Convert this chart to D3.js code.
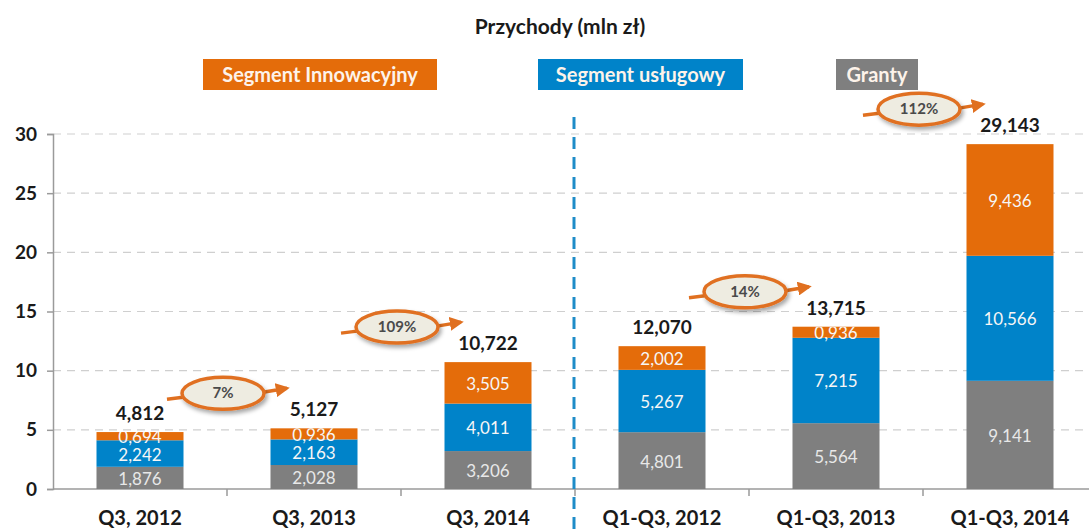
<!DOCTYPE html>
<html>
<head>
<meta charset="utf-8">
<script src="https://cdn.jsdelivr.net/npm/d3@7"></script>
<style>
  body { margin: 0; background: #fff; }
  svg { font-family: Lato, "Open Sans", sans-serif; }
</style>
</head>
<body>
<script>
// data (mln zl)
var categories = ["Q3, 2012", "Q3, 2013", "Q3, 2014", "Q1-Q3, 2012", "Q1-Q3, 2013", "Q1-Q3, 2014"];
var granty      = [1.876, 2.028, 3.206, 4.801, 5.564, 9.141];
var uslugowy    = [2.242, 2.163, 4.011, 5.267, 7.215, 10.566];
var innowacyjny = [0.694, 0.936, 3.505, 2.002, 0.936, 9.436];
var yTicks = [0, 5, 10, 15, 20, 25, 30];
var seriesNames = ["Segment Innowacyjny", "Segment usługowy", "Granty"];
var growthFrom = [0, 1, 3, 4];
var growthTo = [1, 2, 4, 5];
var growthLabels = ["7%", "109%", "14%", "112%"];

var W = 1089, H = 531;
var colors = { innowacyjny: "#E46C0A", uslugowy: "#0083C9", granty: "#7F7F7F" };

var svg = d3.select("body").append("svg")
    .attr("width", W)
    .attr("height", H);

var defs = svg.append("defs");
var shadow = defs.append("filter").attr("id", "shadow")
    .attr("x", "-30%").attr("y", "-30%").attr("width", "160%").attr("height", "180%");
shadow.append("feDropShadow")
    .attr("dx", 2).attr("dy", 3).attr("stdDeviation", 2)
    .attr("flood-color", "#000").attr("flood-opacity", 0.35);
defs.append("marker").attr("id", "arrow")
    .attr("viewBox", "0 0 10 10")
    .attr("refX", 8).attr("refY", 5)
    .attr("markerWidth", 4).attr("markerHeight", 4)
    .attr("orient", "auto")
    .append("path").attr("d", "M0,0 L10,5 L0,10 z").attr("fill", "#E07020");

var x = d3.scaleBand().domain(categories).range([53, 1097]).padding(0);
var y = d3.scaleLinear().domain([0, 30]).range([489, 134]);
var bw = x.bandwidth();

var rows = categories.map(function(c, i) {
    return { cat: c, g: granty[i], u: uslugowy[i], n: innowacyjny[i], total: granty[i] + uslugowy[i] + innowacyjny[i] };
});
var stack = d3.stack().keys(["g", "u", "n"])(rows);
var keyColor = { g: colors.granty, u: colors.uslugowy, n: colors.innowacyjny };

function fmt(v) { return d3.format(".3f")(v).replace(".", ","); }

// title
svg.append("text")
    .attr("x", 560).attr("y", 34)
    .attr("text-anchor", "middle")
    .attr("font-size", 21).attr("font-weight", "bold").attr("fill", "#1a1a1a")
    .text("Przychody (mln zł)");

// legend boxes
var legendX = [203, 538, 836];
var legendW = [234, 205, 82];
var legendC = [colors.innowacyjny, colors.uslugowy, colors.granty];
seriesNames.forEach(function(name, i) {
    svg.append("rect")
        .attr("x", legendX[i]).attr("y", 59)
        .attr("width", legendW[i]).attr("height", 31)
        .attr("fill", legendC[i]);
    svg.append("text")
        .attr("x", legendX[i] + legendW[i] / 2).attr("y", 82)
        .attr("text-anchor", "middle")
        .attr("font-size", 20).attr("font-weight", "bold").attr("fill", "#fdf3ea")
        .text(name);
});

// grid
svg.append("g").selectAll("line")
    .data(yTicks.slice(1))
    .enter().append("line")
    .attr("x1", 53).attr("x2", W)
    .attr("y1", function(d) { return y(d); })
    .attr("y2", function(d) { return y(d); })
    .attr("stroke", "#cfcfcf").attr("stroke-width", 1.2)
    .attr("stroke-dasharray", "8,6");

// y axis
var yAxis = d3.axisLeft(y).tickValues(yTicks).tickSize(6).tickPadding(10);
var yg = svg.append("g").attr("transform", "translate(53,0)").call(yAxis);
yg.select(".domain").attr("stroke", "#9a9a9a").attr("stroke-width", 1.5);
yg.selectAll(".tick line").attr("stroke", "#9a9a9a").attr("stroke-width", 1.5);
yg.selectAll(".tick text")
    .attr("font-family", "Lato, sans-serif")
    .attr("font-size", 19).attr("font-weight", "bold").attr("fill", "#1a1a1a");

// x axis
var xg = svg.append("g").attr("transform", "translate(0," + y(0) + ")");
xg.append("line").attr("x1", 53).attr("x2", W).attr("stroke", "#9a9a9a").attr("stroke-width", 1.5);
xg.selectAll(".sep")
    .data(categories.slice(1))
    .enter().append("line")
    .attr("x1", function(d) { return x(d); })
    .attr("x2", function(d) { return x(d); })
    .attr("y1", 0).attr("y2", 7)
    .attr("stroke", "#9a9a9a").attr("stroke-width", 1.5);
xg.selectAll(".lbl")
    .data(categories)
    .enter().append("text")
    .attr("x", function(d) { return x(d) + bw / 2; })
    .attr("y", 36)
    .attr("text-anchor", "middle")
    .attr("font-size", 20).attr("font-weight", "bold").attr("fill", "#1a1a1a")
    .text(function(d) { return d; });

// divider between Q3 and Q1-Q3
svg.append("line")
    .attr("x1", x(categories[3]) - 1).attr("x2", x(categories[3]) - 1)
    .attr("y1", 117).attr("y2", H)
    .attr("stroke", "#1E8CC8").attr("stroke-width", 3)
    .attr("stroke-dasharray", "12,8");

// bars
rows.forEach(function(r, i) {
    defs.append("clipPath").attr("id", "clip" + i)
        .append("rect")
        .attr("x", x(r.cat) + bw * 0.25).attr("width", bw * 0.5)
        .attr("y", y(r.total)).attr("height", y(0) - y(r.total));
});

stack.forEach(function(layer) {
    var g = svg.append("g");
    g.selectAll("rect")
        .data(layer)
        .enter().append("rect")
        .attr("x", function(d) { return x(d.data.cat) + bw * 0.25; })
        .attr("width", bw * 0.5)
        .attr("y", function(d) { return y(d[1]); })
        .attr("height", function(d) { return y(d[0]) - y(d[1]); })
        .attr("fill", keyColor[layer.key]);
});

stack.forEach(function(layer) {
    svg.append("g").selectAll("text")
        .data(layer)
        .enter().append("text")
        .attr("clip-path", function(d, i) { return "url(#clip" + i + ")"; })
        .attr("x", function(d) { return x(d.data.cat) + bw / 2; })
        .attr("y", function(d) { return (y(d[0]) + y(d[1])) / 2 + 7; })
        .attr("text-anchor", "middle")
        .attr("font-size", 17).attr("fill", function() { return layer.key == "g" ? "#e8e8e8" : "#f6f6f6"; })
        .text(function(d) { return fmt(d[1] - d[0]); });
});

// totals
svg.append("g").selectAll("text")
    .data(rows)
    .enter().append("text")
    .attr("x", function(d) { return x(d.cat) + bw / 2; })
    .attr("y", function(d) { return y(d.total) - 12; })
    .attr("text-anchor", "middle")
    .attr("font-size", 19).attr("font-weight", "bold").attr("fill", "#1a1a1a")
    .text(function(d) { return fmt(d.total); });

// growth callouts
growthLabels.forEach(function(lbl, i) {
    var cx = x(categories[growthTo[i]]) - 4;
    var cy = y(rows[growthTo[i]].total) - 35;
    var g = svg.append("g");
    g.append("path")
        .attr("d", "M" + (cx - 56) + "," + (cy + 6) + " Q" + (cx - 48) + "," + (cy + 5) + " " + (cx - 40) + "," + (cy + 4))
        .attr("fill", "none").attr("stroke", "#E07020").attr("stroke-width", 3.5);
    g.append("path")
        .attr("d", "M" + (cx + 40) + "," + (cy - 1) + " Q" + (cx + 52) + "," + (cy - 3) + " " + (cx + 64) + "," + (cy - 5))
        .attr("fill", "none").attr("stroke", "#E07020").attr("stroke-width", 3.5)
        .attr("marker-end", "url(#arrow)");
    g.append("ellipse")
        .attr("cx", cx).attr("cy", cy)
        .attr("rx", 41).attr("ry", 16)
        .attr("fill", "#EEECE1").attr("stroke", "#E07020").attr("stroke-width", 3.5)
        .attr("filter", "url(#shadow)");
    g.append("text")
        .attr("x", cx).attr("y", cy + 5)
        .attr("text-anchor", "middle")
        .attr("font-size", 15).attr("font-weight", "bold").attr("fill", "#4a4a4a")
        .text(lbl);
});
</script>
</body>
</html>
